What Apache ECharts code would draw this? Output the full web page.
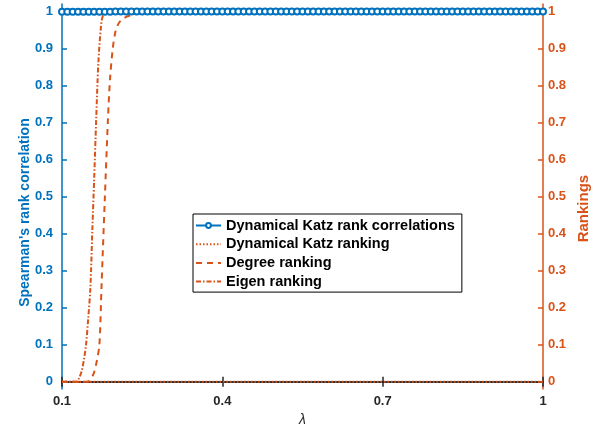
<!DOCTYPE html>
<html>
<head>
<meta charset="utf-8">
<script src="https://cdn.jsdelivr.net/npm/echarts@6/dist/echarts.min.js"></script>
<style>
html, body { margin: 0; padding: 0; background: #fff; }
#chart { width: 609px; height: 432px; }
</style>
</head>
<body>
<div id="chart"></div>
<script>
// lambda grid of the rank correlation curve
var lambdaValues = [
    0.10, 0.11, 0.12, 0.13, 0.14, 0.15, 0.16, 0.17, 0.18, 0.19,
    0.20, 0.21, 0.22, 0.23, 0.24, 0.25, 0.26, 0.27, 0.28, 0.29,
    0.30, 0.31, 0.32, 0.33, 0.34, 0.35, 0.36, 0.37, 0.38, 0.39,
    0.40, 0.41, 0.42, 0.43, 0.44, 0.45, 0.46, 0.47, 0.48, 0.49,
    0.50, 0.51, 0.52, 0.53, 0.54, 0.55, 0.56, 0.57, 0.58, 0.59,
    0.60, 0.61, 0.62, 0.63, 0.64, 0.65, 0.66, 0.67, 0.68, 0.69,
    0.70, 0.71, 0.72, 0.73, 0.74, 0.75, 0.76, 0.77, 0.78, 0.79,
    0.80, 0.81, 0.82, 0.83, 0.84, 0.85, 0.86, 0.87, 0.88, 0.89,
    0.90, 0.91, 0.92, 0.93, 0.94, 0.95, 0.96, 0.97, 0.98, 0.99,
    1.00
];
var katzCorrelation = [
    0.999, 0.999, 0.999, 0.999, 0.999, 0.999, 0.999, 0.999, 0.999, 0.999,
    1, 1, 1, 1, 1, 1, 1, 1, 1, 1,
    1, 1, 1, 1, 1, 1, 1, 1, 1, 1,
    1, 1, 1, 1, 1, 1, 1, 1, 1, 1,
    1, 1, 1, 1, 1, 1, 1, 1, 1, 1,
    1, 1, 1, 1, 1, 1, 1, 1, 1, 1,
    1, 1, 1, 1, 1, 1, 1, 1, 1, 1,
    1, 1, 1, 1, 1, 1, 1, 1, 1, 1,
    1, 1, 1, 1, 1, 1, 1, 1, 1, 1,
    1
];

var katzRankLambda = [0.1, 0.4, 0.7, 1.0];
var katzRanking = [0, 0, 0, 0];

var degreeLambda = [0.1, 0.148, 0.155, 0.16, 0.165, 0.17, 0.174, 0.18, 0.186, 0.19,
    0.195, 0.2, 0.205, 0.21, 0.22, 0.23, 0.25, 0.3, 0.4, 0.7, 1.0];
var degreeRanking = [0, 0, 0.01, 0.025, 0.055, 0.1, 0.26, 0.49, 0.71, 0.82,
    0.9, 0.945, 0.965, 0.975, 0.985, 0.99, 0.997, 1, 1, 1, 1];

var eigenLambda = [0.1, 0.127, 0.132, 0.137, 0.141, 0.145, 0.149, 0.153, 0.157, 0.16,
    0.164, 0.168, 0.173, 0.177, 0.185, 0.2, 0.4, 0.7, 1.0];
var eigenRanking = [0, 0, 0.01, 0.03, 0.06, 0.1, 0.17, 0.25, 0.42, 0.54,
    0.71, 0.86, 0.96, 0.99, 1, 1, 1, 1, 1];

var xTicks = [0.1, 0.4, 0.7, 1];
var yTicks = [0, 0.1, 0.2, 0.3, 0.4, 0.5, 0.6, 0.7, 0.8, 0.9, 1];

var blue = '#0072BD';
var orange = '#D95319';
var dark = '#262626';
var font = 'Liberation Sans, Arial, Helvetica, sans-serif';

function pairs(xs, ys) {
    return xs.map(function (x, i) { return [x, ys[i]]; });
}

function yAxisFor(color, pos, name, gap, margin, pad, nameSize) {
    return {
        type: 'value',
        position: pos,
        min: -0.02,
        max: 1.02,
        name: name,
        nameLocation: 'middle',
        nameRotate: 90,
        nameGap: gap,
        nameMoveOverlap: false,
        nameTextStyle: {
            color: color, fontFamily: font, fontWeight: 'bold', fontSize: nameSize,
            padding: pad
        },
        axisLine: { show: true, lineStyle: { color: color, width: 1.5 } },
        axisTick: { show: true, inside: true, length: 5, customValues: yTicks,
            lineStyle: { color: color, width: 1.5 } },
        axisLabel: { customValues: yTicks, margin: margin, color: color,
            fontFamily: font, fontWeight: 'bold', fontSize: 13 },
        splitLine: { show: false }
    };
}

// line-only legend entries: hide the marker the legend adds by default
var noMarker = { opacity: 0 };

var myChart = echarts.init(document.getElementById('chart'));
myChart.setOption({
    animation: false,
    backgroundColor: '#fff',
    grid: { left: 62, right: 66, top: 4, bottom: 41 },
    legend: {
        orient: 'vertical',
        left: 193,
        top: 214,
        padding: [4, 7, 3, 2],
        itemGap: 3.7,
        itemWidth: 25,
        itemHeight: 6,
        borderColor: '#000',
        borderWidth: 1,
        borderRadius: 0,
        backgroundColor: '#fff',
        textStyle: { color: '#000', fontFamily: font, fontWeight: 'bold', fontSize: 14.5 },
        data: [
            { name: 'Dynamical Katz rank correlations' },
            { name: 'Dynamical Katz ranking', itemStyle: noMarker },
            { name: 'Degree ranking', itemStyle: noMarker },
            { name: 'Eigen ranking', itemStyle: noMarker }
        ]
    },
    xAxis: [
        {
            type: 'value',
            min: 0.1,
            max: 1,
            name: 'λ',
            nameLocation: 'middle',
            nameGap: 19,
            nameTextStyle: { color: dark, fontFamily: font, fontStyle: 'italic', fontSize: 14 },
            axisLine: { lineStyle: { color: dark, width: 1.5 } },
            axisTick: { inside: true, length: 5, customValues: xTicks,
                lineStyle: { color: dark, width: 1.5 } },
            axisLabel: { customValues: xTicks, margin: 6, color: dark,
                fontFamily: font, fontWeight: 'bold', fontSize: 13 },
            splitLine: { show: false }
        },
        {
            type: 'value',
            position: 'top',
            min: 0.1,
            max: 1,
            axisLine: { show: true, lineStyle: { color: dark, width: 1.5 } },
            axisTick: { show: true, inside: true, length: 5, customValues: xTicks,
                lineStyle: { color: dark, width: 1.5 } },
            axisLabel: { show: false },
            splitLine: { show: false }
        }
    ],
    yAxis: [
        yAxisFor(blue, 'left', "Spearman's rank correlation", 30, 9, [0, 32, 0, 0], 14),
        yAxisFor(orange, 'right', 'Rankings', 33, 5, [0, 24, 0, 0], 15)
    ],
    series: [
        {
            name: 'Dynamical Katz rank correlations',
            type: 'line',
            yAxisIndex: 0,
            data: pairs(lambdaValues, katzCorrelation),
            symbol: 'emptyCircle',
            symbolSize: 6,
            color: blue,
            lineStyle: { color: blue, width: 1.5 },
            itemStyle: { color: blue, borderColor: blue, borderWidth: 1.5 }
        },
        {
            name: 'Dynamical Katz ranking',
            type: 'line',
            yAxisIndex: 1,
            data: pairs(katzRankLambda, katzRanking),
            symbol: 'none',
            color: orange,
            lineStyle: { color: orange, width: 2, type: [1.5, 2] }
        },
        {
            name: 'Degree ranking',
            type: 'line',
            yAxisIndex: 1,
            data: pairs(degreeLambda, degreeRanking),
            symbol: 'none',
            smooth: 0.3,
            color: orange,
            lineStyle: { color: orange, width: 2, type: [6, 5] }
        },
        {
            name: 'Eigen ranking',
            type: 'line',
            yAxisIndex: 1,
            data: pairs(eigenLambda, eigenRanking),
            symbol: 'none',
            smooth: 0.3,
            color: orange,
            lineStyle: { color: orange, width: 2, type: [5, 2, 1.5, 2] }
        }
    ]
});

window.addEventListener('resize', function () {
    myChart.resize();
});
</script>
</body>
</html>
